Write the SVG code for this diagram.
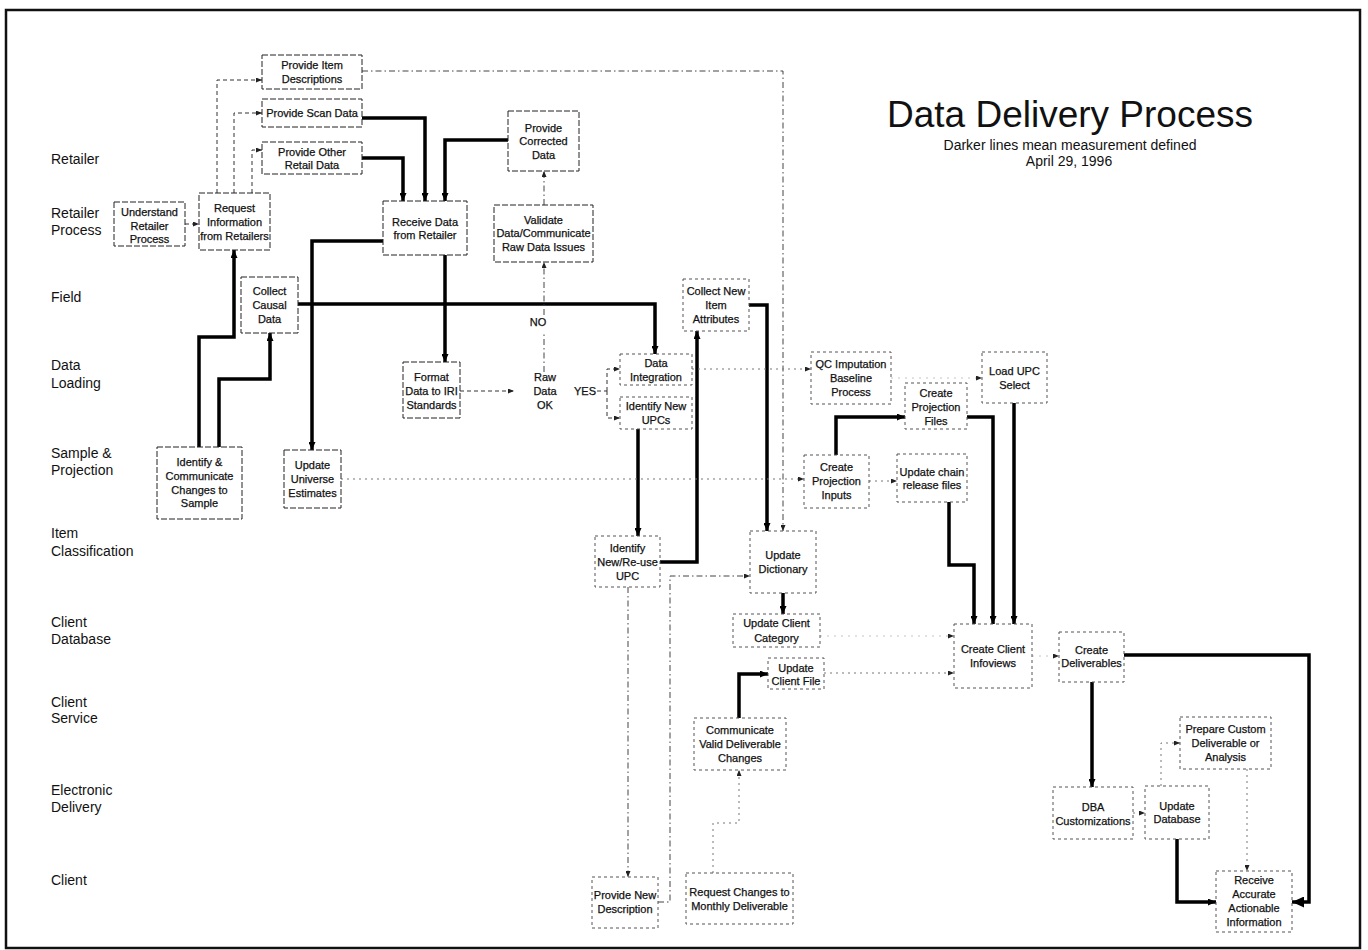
<svg xmlns="http://www.w3.org/2000/svg" width="1368" height="950" viewBox="0 0 1368 950">
  <style>
    text { font-family: "Liberation Sans", Arial, sans-serif; fill: #111; }
    .lane { font-size: 14px; }
    .title { font-size: 37px; text-anchor: middle; }
    .sub { font-size: 14px; text-anchor: middle; }
    .node text, .lbl { font-size: 11px; text-anchor: middle; stroke: #111; stroke-width: 0.25; }
    .box { fill: #fff; stroke: #222; stroke-width: 1; stroke-dasharray: 6 2; }
    .box.lt { stroke: #555; stroke-dasharray: 3 3; }
    .tk { fill: none; stroke: #000; stroke-width: 3.5; stroke-linejoin: miter; }
    .dl { fill: none; stroke: #333; stroke-width: 1; stroke-dasharray: 4 3; }
    .dd { fill: none; stroke: #444; stroke-width: 1; stroke-dasharray: 6 3 1.5 3; }
    .fd { fill: none; stroke: #777; stroke-width: 1; stroke-dasharray: 2 4; }
    .vf { fill: none; stroke: #c4c4c4; stroke-width: 1; stroke-dasharray: 2 5; }
  </style>
  <defs>
    <marker id="ah" viewBox="0 0 8 7" refX="8" refY="3.5" markerWidth="8" markerHeight="7" markerUnits="userSpaceOnUse" orient="auto">
      <path d="M0,0 L8,3.5 L0,7 z" fill="#000"/>
    </marker>
    <marker id="ahb" viewBox="0 0 12 11" refX="12" refY="5.5" markerWidth="12" markerHeight="11" markerUnits="userSpaceOnUse" orient="auto">
      <path d="M0,0 L12,5.5 L0,11 z" fill="#000"/>
    </marker>
    <marker id="as" viewBox="0 0 6 5" refX="6" refY="2.5" markerWidth="6" markerHeight="5" markerUnits="userSpaceOnUse" orient="auto">
      <path d="M0,0 L6,2.5 L0,5 z" fill="#222"/>
    </marker>
  </defs>

  <rect width="1368" height="950" fill="#fff"/>
  <!-- outer frame -->
  <rect x="6" y="10" width="1354" height="938" fill="none" stroke="#111" stroke-width="2.5"/>

  <!-- heading -->
  <g id="heading">
    <text class="title" x="1070" y="127">Data Delivery Process</text>
    <text class="sub" x="1070" y="150">Darker lines mean measurement defined</text>
    <text class="sub" x="1069" y="166">April  29, 1996</text>
  </g>

  <!-- swim lane labels -->
  <g id="lanes" class="lane">
    <text x="51" y="164">Retailer</text>
    <text x="51" y="218">Retailer</text>
    <text x="51" y="235">Process</text>
    <text x="51" y="302">Field</text>
    <text x="51" y="370">Data</text>
    <text x="51" y="388">Loading</text>
    <text x="51" y="458">Sample &amp;</text>
    <text x="51" y="475">Projection</text>
    <text x="51" y="538">Item</text>
    <text x="51" y="556">Classification</text>
    <text x="51" y="627">Client</text>
    <text x="51" y="644">Database</text>
    <text x="51" y="707">Client</text>
    <text x="51" y="723">Service</text>
    <text x="51" y="795">Electronic</text>
    <text x="51" y="812">Delivery</text>
    <text x="51" y="885">Client</text>
  </g>

  <!-- connectors -->
  <g id="connectors">
    <!-- measured flows (heavy) -->
    <path class="tk" d="M362,118 H425 V201" marker-end="url(#ah)"/>
    <path class="tk" d="M362,158 H403 V201" marker-end="url(#ah)"/>
    <path class="tk" d="M508,140 H445 V201" marker-end="url(#ah)"/>
    <path class="tk" d="M383,241 H312 V450" marker-end="url(#ah)"/>
    <path class="tk" d="M445,255 V362" marker-end="url(#ah)"/>
    <path class="tk" d="M298,304 H655 V354" marker-end="url(#ah)"/>
    <path class="tk" d="M199,447 V337 H234 V250" marker-end="url(#ah)"/>
    <path class="tk" d="M219,447 V379 H270 V333" marker-end="url(#ah)"/>
    <path class="tk" d="M638,429 V536" marker-end="url(#ah)"/>
    <path class="tk" d="M660,562 H697 V331" marker-end="url(#ah)"/>
    <path class="tk" d="M749,305 H767 V531" marker-end="url(#ah)"/>
    <path class="tk" d="M836,455 V417 H905" marker-end="url(#ah)"/>
    <path class="tk" d="M967,417 H993 V624" marker-end="url(#ah)"/>
    <path class="tk" d="M1014,403 V624" marker-end="url(#ah)"/>
    <path class="tk" d="M949,502 V565 H974 V624" marker-end="url(#ah)"/>
    <path class="tk" d="M783,593 V614" marker-end="url(#ah)"/>
    <path class="tk" d="M739,718 V674 H768" marker-end="url(#ah)"/>
    <path class="tk" d="M1124,655 H1309 V902 H1292" marker-end="url(#ahb)"/>
    <path class="tk" d="M1092,682 V787" marker-end="url(#ah)"/>
    <path class="tk" d="M1177,839 V902 H1216" marker-end="url(#ah)"/>

    <!-- other flows (light) -->
    <path class="dl" d="M185,224 H199" marker-end="url(#as)"/>
    <path class="dl" d="M217,193 V80 H262" marker-end="url(#as)"/>
    <path class="dl" d="M234,193 V113 H262" marker-end="url(#as)"/>
    <path class="dl" d="M252,193 V150 H262" marker-end="url(#as)"/>
    <path class="dd" d="M362,71 H783 V531" marker-end="url(#as)"/>
    <path class="dd" d="M544,205 V171" marker-end="url(#as)"/>
    <path class="dd" d="M544,372 V333"/>
    <path class="dd" d="M544,315 V262" marker-end="url(#as)"/>
    <path class="dl" d="M460,391 H514" marker-end="url(#as)"/>
    <path class="dl" d="M597,391 H607"/>
    <path class="dl" d="M607,391 V369 H620" marker-end="url(#as)"/>
    <path class="dl" d="M607,391 V418 H620" marker-end="url(#as)"/>
    <path class="fd" d="M692,369 H811" marker-end="url(#as)"/>
    <path class="fd" d="M341,479 H804" marker-end="url(#as)"/>
    <path class="fd" d="M869,481 H897" marker-end="url(#as)"/>
    <path class="vf" d="M891,378 H982" marker-end="url(#as)"/>
    <path class="dd" d="M628,587 V877" marker-end="url(#as)"/>
    <path class="dd" d="M658,902 H670 V576 H750" marker-end="url(#as)"/>
    <path class="fd" d="M713,873 V823 H739 V770" marker-end="url(#as)"/>
    <path class="fd" d="M824,673 H954" marker-end="url(#as)"/>
    <path class="vf" d="M820,636 H954" marker-end="url(#as)"/>
    <path class="vf" d="M1032,656 H1059" marker-end="url(#as)"/>
    <path class="fd" d="M1133,813 H1145" marker-end="url(#as)"/>
    <path class="fd" d="M1161,786 V743 H1180" marker-end="url(#as)"/>
    <path class="fd" d="M1247,769 V871" marker-end="url(#as)"/>

    <!-- decision labels -->
    <text class="lbl" x="538" y="326">NO</text>
    <text class="lbl" x="545" y="381">Raw</text>
    <text class="lbl" x="545" y="395">Data</text>
    <text class="lbl" x="545" y="409">OK</text>
    <text class="lbl" x="585" y="395">YES</text>
  </g>

  <!-- process steps -->
  <g id="n-item-desc" class="node">
    <rect class="box" x="262" y="55" width="100" height="34"/>
    <text x="312" y="69">Provide Item</text>
    <text x="312" y="83">Descriptions</text>
  </g>
  <g id="n-scan" class="node">
    <rect class="box" x="262" y="99" width="100" height="28"/>
    <text x="312" y="117">Provide Scan Data</text>
  </g>
  <g id="n-other" class="node">
    <rect class="box" x="262" y="142" width="100" height="32"/>
    <text x="312" y="156">Provide Other</text>
    <text x="312" y="169">Retail Data</text>
  </g>
  <g id="n-understand" class="node">
    <rect class="box" x="114" y="202" width="71" height="44"/>
    <text x="149.5" y="216">Understand</text>
    <text x="149.5" y="230">Retailer</text>
    <text x="149.5" y="243">Process</text>
  </g>
  <g id="n-request" class="node">
    <rect class="box" x="199" y="193" width="71" height="57"/>
    <text x="234.5" y="212">Request</text>
    <text x="234.5" y="226">Information</text>
    <text x="234.5" y="240">from Retailers</text>
  </g>
  <g id="n-receive" class="node">
    <rect class="box" x="383" y="201" width="84" height="54"/>
    <text x="425" y="226">Receive Data</text>
    <text x="425" y="239">from Retailer</text>
  </g>
  <g id="n-corrected" class="node">
    <rect class="box" x="508" y="111" width="71" height="60"/>
    <text x="543.5" y="132">Provide</text>
    <text x="543.5" y="145">Corrected</text>
    <text x="543.5" y="159">Data</text>
  </g>
  <g id="n-validate" class="node">
    <rect class="box" x="494" y="205" width="99" height="57"/>
    <text x="543.5" y="224">Validate</text>
    <text x="543.5" y="237">Data/Communicate</text>
    <text x="543.5" y="251">Raw Data Issues</text>
  </g>
  <g id="n-causal" class="node">
    <rect class="box" x="241" y="277" width="57" height="56"/>
    <text x="269.5" y="295">Collect</text>
    <text x="269.5" y="309">Causal</text>
    <text x="269.5" y="323">Data</text>
  </g>
  <g id="n-format" class="node">
    <rect class="box" x="403" y="362" width="57" height="56"/>
    <text x="431.5" y="381">Format</text>
    <text x="431.5" y="395">Data to IRI</text>
    <text x="431.5" y="409">Standards</text>
  </g>
  <g id="n-integration" class="node">
    <rect class="box lt" x="620" y="354" width="72" height="31"/>
    <text x="656" y="367">Data</text>
    <text x="656" y="381">Integration</text>
  </g>
  <g id="n-new-upcs" class="node">
    <rect class="box lt" x="620" y="397" width="72" height="32"/>
    <text x="656" y="410">Identify New</text>
    <text x="656" y="424">UPCs</text>
  </g>
  <g id="n-collect-attr" class="node">
    <rect class="box lt" x="683" y="279" width="66" height="52"/>
    <text x="716" y="295">Collect New</text>
    <text x="716" y="309">Item</text>
    <text x="716" y="323">Attributes</text>
  </g>
  <g id="n-qc" class="node">
    <rect class="box lt" x="811" y="352" width="80" height="52"/>
    <text x="851" y="368">QC Imputation</text>
    <text x="851" y="382">Baseline</text>
    <text x="851" y="396">Process</text>
  </g>
  <g id="n-proj-files" class="node">
    <rect class="box lt" x="905" y="383" width="62" height="46"/>
    <text x="936" y="397">Create</text>
    <text x="936" y="411">Projection</text>
    <text x="936" y="425">Files</text>
  </g>
  <g id="n-load-upc" class="node">
    <rect class="box lt" x="982" y="352" width="65" height="51"/>
    <text x="1014.5" y="375">Load UPC</text>
    <text x="1014.5" y="389">Select</text>
  </g>
  <g id="n-proj-inputs" class="node">
    <rect class="box lt" x="804" y="455" width="65" height="53"/>
    <text x="836.5" y="471">Create</text>
    <text x="836.5" y="485">Projection</text>
    <text x="836.5" y="499">Inputs</text>
  </g>
  <g id="n-chain" class="node">
    <rect class="box lt" x="897" y="454" width="70" height="48"/>
    <text x="932" y="476">Update chain</text>
    <text x="932" y="489">release files</text>
  </g>
  <g id="n-identify-comm" class="node">
    <rect class="box" x="157" y="447" width="85" height="72"/>
    <text x="199.5" y="466">Identify &amp;</text>
    <text x="199.5" y="480">Communicate</text>
    <text x="199.5" y="494">Changes to</text>
    <text x="199.5" y="507">Sample</text>
  </g>
  <g id="n-universe" class="node">
    <rect class="box" x="284" y="450" width="57" height="58"/>
    <text x="312.5" y="469">Update</text>
    <text x="312.5" y="483">Universe</text>
    <text x="312.5" y="497">Estimates</text>
  </g>
  <g id="n-reuse" class="node">
    <rect class="box lt" x="595" y="536" width="65" height="51"/>
    <text x="627.5" y="552">Identify</text>
    <text x="627.5" y="566">New/Re-use</text>
    <text x="627.5" y="580">UPC</text>
  </g>
  <g id="n-dictionary" class="node">
    <rect class="box lt" x="750" y="531" width="66" height="62"/>
    <text x="783" y="559">Update</text>
    <text x="783" y="573">Dictionary</text>
  </g>
  <g id="n-client-cat" class="node">
    <rect class="box lt" x="733" y="614" width="87" height="33"/>
    <text x="776.5" y="627">Update Client</text>
    <text x="776.5" y="642">Category</text>
  </g>
  <g id="n-client-file" class="node">
    <rect class="box lt" x="768" y="658" width="56" height="31"/>
    <text x="796" y="672">Update</text>
    <text x="796" y="685">Client File</text>
  </g>
  <g id="n-communicate" class="node">
    <rect class="box lt" x="694" y="718" width="92" height="52"/>
    <text x="740" y="734">Communicate</text>
    <text x="740" y="748">Valid Deliverable</text>
    <text x="740" y="762">Changes</text>
  </g>
  <g id="n-new-desc" class="node">
    <rect class="box lt" x="592" y="877" width="66" height="51"/>
    <text x="625" y="899">Provide New</text>
    <text x="625" y="913">Description</text>
  </g>
  <g id="n-request-changes" class="node">
    <rect class="box lt" x="686" y="873" width="107" height="51"/>
    <text x="739.5" y="896">Request Changes to</text>
    <text x="739.5" y="910">Monthly Deliverable</text>
  </g>
  <g id="n-infoviews" class="node">
    <rect class="box lt" x="954" y="624" width="78" height="64"/>
    <text x="993" y="653">Create Client</text>
    <text x="993" y="667">Infoviews</text>
  </g>
  <g id="n-deliverables" class="node">
    <rect class="box lt" x="1059" y="632" width="65" height="50"/>
    <text x="1091.5" y="654">Create</text>
    <text x="1091.5" y="667">Deliverables</text>
  </g>
  <g id="n-custom" class="node">
    <rect class="box lt" x="1180" y="717" width="91" height="52"/>
    <text x="1225.5" y="733">Prepare Custom</text>
    <text x="1225.5" y="747">Deliverable or</text>
    <text x="1225.5" y="761">Analysis</text>
  </g>
  <g id="n-dba" class="node">
    <rect class="box lt" x="1053" y="787" width="80" height="52"/>
    <text x="1093" y="811">DBA</text>
    <text x="1093" y="825">Customizations</text>
  </g>
  <g id="n-update-db" class="node">
    <rect class="box lt" x="1145" y="786" width="64" height="53"/>
    <text x="1177" y="810">Update</text>
    <text x="1177" y="823">Database</text>
  </g>
  <g id="n-receive-info" class="node">
    <rect class="box lt" x="1216" y="871" width="76" height="61"/>
    <text x="1254" y="884">Receive</text>
    <text x="1254" y="898">Accurate</text>
    <text x="1254" y="912">Actionable</text>
    <text x="1254" y="926">Information</text>
  </g>
</svg>
